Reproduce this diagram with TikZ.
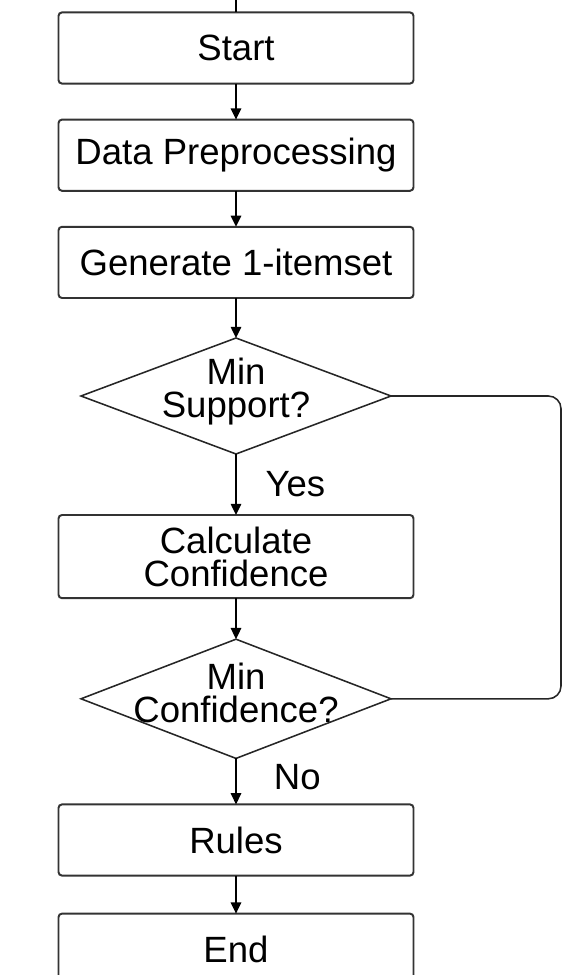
\documentclass[tikz,border=0pt]{standalone}
\usepackage{fontspec}
\setmainfont{Liberation Sans}
\usetikzlibrary{positioning,calc,shapes.geometric,arrows.meta}

\tikzset{
  txt/.style={font=\fontsize{26}{23.5}\selectfont, align=center},
  process/.style={txt, draw=black!80, line width=1.4pt, rounded corners=2.5pt,
    outer sep=0pt, minimum width=8.875cm, minimum height=1.78cm},
  decision/.style={draw=black!85, line width=1.1pt, diamond, inner sep=0pt,
    outer sep=0pt, minimum width=7.75cm, minimum height=2.9cm},
  flow/.style={draw=black, line width=1.1pt, -{Triangle[length=8pt,width=7.5pt]}},
  loopline/.style={draw=black!85, line width=1.1pt, rounded corners=9pt},
}

\begin{document}
\begin{tikzpicture}
  \useasboundingbox (0,0) rectangle (14.4,-24.375);
  % process boxes and decisions, top to bottom
  \node[process]                          (start)   at (5.9,-1.2) {Start};
  \node[process, below=0.9cm of start]    (prep)    {Data Preprocessing};
  \node[process, below=0.9cm of prep]     (gen)     {Generate 1-itemset};
  \node[decision, below=1.0cm of gen,
        label={[txt, yshift=3pt]center:Min\\Support?}] (minsup)  {};
  \node[process, minimum height=2.08cm,
        below=1.525cm of minsup]          (calc)    {Calculate\\Confidence};
  \node[decision, below=1.025cm of calc, minimum height=2.98cm,
        label={[txt, yshift=4pt]center:Min\\Confidence?}] (minconf) {};
  \node[process, below=1.15cm of minconf] (rules)   {Rules};
  \node[process, below=0.95cm of rules]   (end)     {End};
  % entry line above the start box
  \coordinate (entry) at ($(start.north)+(0,0.6)$);
  \draw[line width=1.1pt] (entry) -- (start.north);
  % arrows
  \draw[flow] (start) -- (prep);
  \draw[flow] (prep) -- (gen);
  \draw[flow] (gen) -- (minsup);
  \draw[flow] (minsup) -- node[txt, pos=0.5, right=0.72cm, inner sep=0pt] (yes) {Yes} (calc);
  \draw[flow] (calc) -- (minconf);
  \draw[flow] (minconf) -- node[txt, pos=0.4, right=0.93cm, inner sep=0pt] (no) {No} (rules);
  \draw[flow] (rules) -- (end);
  % loop back on the right
  \draw[loopline] (minconf.east) -- ++(4.25,0) |- (minsup.east);
\end{tikzpicture}
\end{document}
